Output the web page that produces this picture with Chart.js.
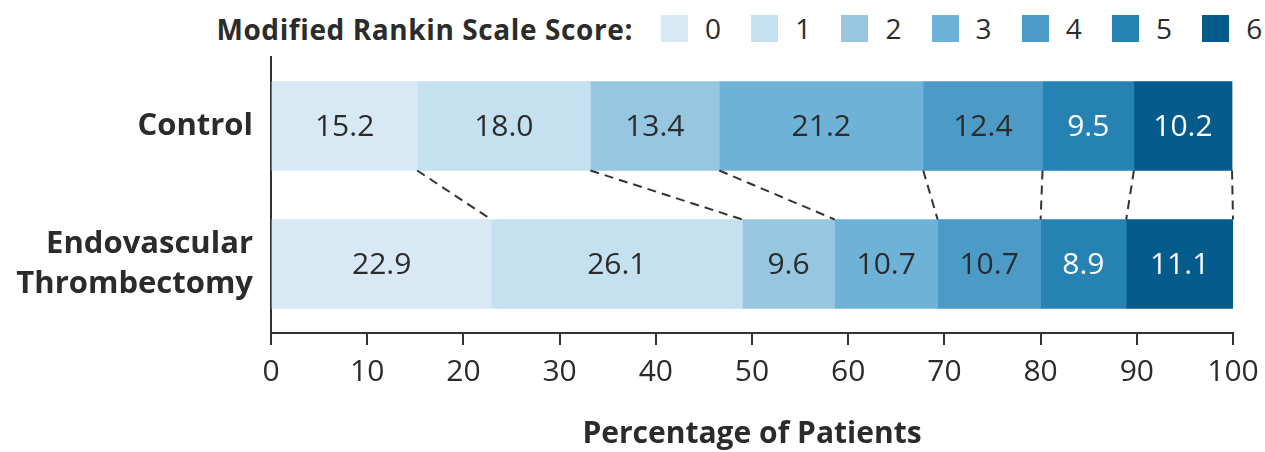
<!DOCTYPE html>
<html>
<head>
<meta charset="utf-8">
<script src="https://cdn.jsdelivr.net/npm/chart.js@4"></script>
<style>
  body { margin: 0; background: #fff; }
  #wrap { position: relative; width: 1265px; height: 452px; font-family: "Open Sans", sans-serif; color: #2b2b2b; }
  #legendTitle { position: absolute; top: 11px; right: 632px; font-weight: bold; font-size: 28px; letter-spacing: 0.6px; line-height: 36px; white-space: nowrap; }
  #legendItems { position: absolute; top: 10px; left: 661px; display: flex; }
  .item { width: 90.2px; display: flex; align-items: center; height: 36px; }
  .box { width: 27px; height: 27px; margin-right: 17px; }
  .lab { font-size: 28px; line-height: 36px; }
  #chart3 { position: absolute; left: 0; top: 0; }
</style>
</head>
<body>
<div id="wrap">
  <div id="legendTitle">Modified Rankin Scale Score:</div>
  <div id="legendItems"></div>
  <canvas id="chart3" width="1265" height="452"></canvas>
</div>
<script>
const groups = ['Control', ['Endovascular', 'Thrombectomy']];
const scores = ['0', '1', '2', '3', '4', '5', '6'];
const control = [15.2, 18.0, 13.4, 21.2, 12.4, 9.5, 10.2];
const thrombectomy = [22.9, 26.1, 9.6, 10.7, 10.7, 8.9, 11.1];
const xTicks = [0, 10, 20, 30, 40, 50, 60, 70, 80, 90, 100];
const colors = ['#d8e9f4', '#c5e0ef', '#97c6e1', '#6fb2d7', '#4c9bc6', '#2582b3', '#055b8b'];
const labelColors = ['#2b2b2b', '#2b2b2b', '#2b2b2b', '#2b2b2b', '#2b2b2b', '#ffffff', '#ffffff'];

// legend (html)
const legendBox = document.getElementById('legendItems');
scores.forEach((s, i) => {
    const it = document.createElement('div');
    it.className = 'item';
    it.innerHTML = '<div class="box" style="background:' + colors[i] + '"></div><span class="lab">' + s + '</span>';
    legendBox.appendChild(it);
});

// values inside the bars
const valueLabels = {
    id: 'valueLabels',
    afterDatasetsDraw(chart) {
        const ctx = chart.ctx;
        ctx.save();
        ctx.font = '30px "Open Sans"';
        ctx.textAlign = 'center';
        ctx.textBaseline = 'middle';
        chart.data.datasets.forEach((ds, i) => {
            chart.getDatasetMeta(i).data.forEach((bar, j) => {
                const x = (bar.x + bar.base) / 2;
                ctx.fillStyle = labelColors[i];
                ctx.fillText(ds.data[j].toFixed(1), x, bar.y + 1);
            });
        });
        ctx.restore();
    }
};

// dashed lines joining the cumulative boundaries
const connectors = {
    id: 'connectors',
    afterDatasetsDraw(chart) {
        const ctx = chart.ctx;
        ctx.save();
        ctx.strokeStyle = '#333';
        ctx.lineWidth = 2;
        ctx.setLineDash([9, 6]);
        chart.data.datasets.forEach((ds, i) => {
            const meta = chart.getDatasetMeta(i);
            const top = meta.data[0], bottom = meta.data[1];
            ctx.beginPath();
            ctx.moveTo(top.x, top.y + top.height / 2);
            ctx.lineTo(bottom.x, bottom.y - bottom.height / 2);
            ctx.stroke();
        });
        ctx.restore();
    }
};

const ctx3 = document.getElementById('chart3').getContext('2d');
new Chart(ctx3, {
    type: 'bar',
    data: {
        labels: groups,
        datasets: scores.map((s, i) => ({
            label: s,
            data: [control[i], thrombectomy[i]],
            backgroundColor: colors[i],
            borderWidth: 0,
            barThickness: 89
        }))
    },
    options: {
        indexAxis: 'y',
        responsive: false,
        animation: false,
        layout: { padding: { top: 57, right: 32, left: 0, bottom: 0 } },
        plugins: { legend: { display: false }, tooltip: { enabled: false } },
        scales: {
            x: {
                stacked: true,
                min: 0,
                max: 100,
                afterBuildTicks: axis => { axis.ticks = xTicks.map(v => ({ value: v })); },
                afterFit: axis => { axis.height = 119; axis.paddingLeft = 0; axis.paddingRight = 0; },
                grid: { drawOnChartArea: false, drawTicks: true, tickLength: 12, color: '#333', lineWidth: 2 },
                border: { color: '#333', width: 2 },
                ticks: { color: '#2b2b2b', font: { family: 'Open Sans', size: 30 }, padding: 9, maxRotation: 0 },
                title: {
                    display: true,
                    text: 'Percentage of Patients',
                    color: '#2b2b2b',
                    font: { family: 'Open Sans', size: 30, weight: 'bold' },
                    padding: { top: 6, bottom: 0 }
                }
            },
            y: {
                stacked: true,
                afterFit: axis => { axis.width = 271; },
                grid: { display: false },
                border: { color: '#333', width: 2 },
                ticks: { color: '#2b2b2b', font: { family: 'Open Sans', size: 31, weight: 'bold', lineHeight: 1.29 }, padding: 10 }
            }
        }
    },
    plugins: [valueLabels, connectors]
});
</script>
</body>
</html>
